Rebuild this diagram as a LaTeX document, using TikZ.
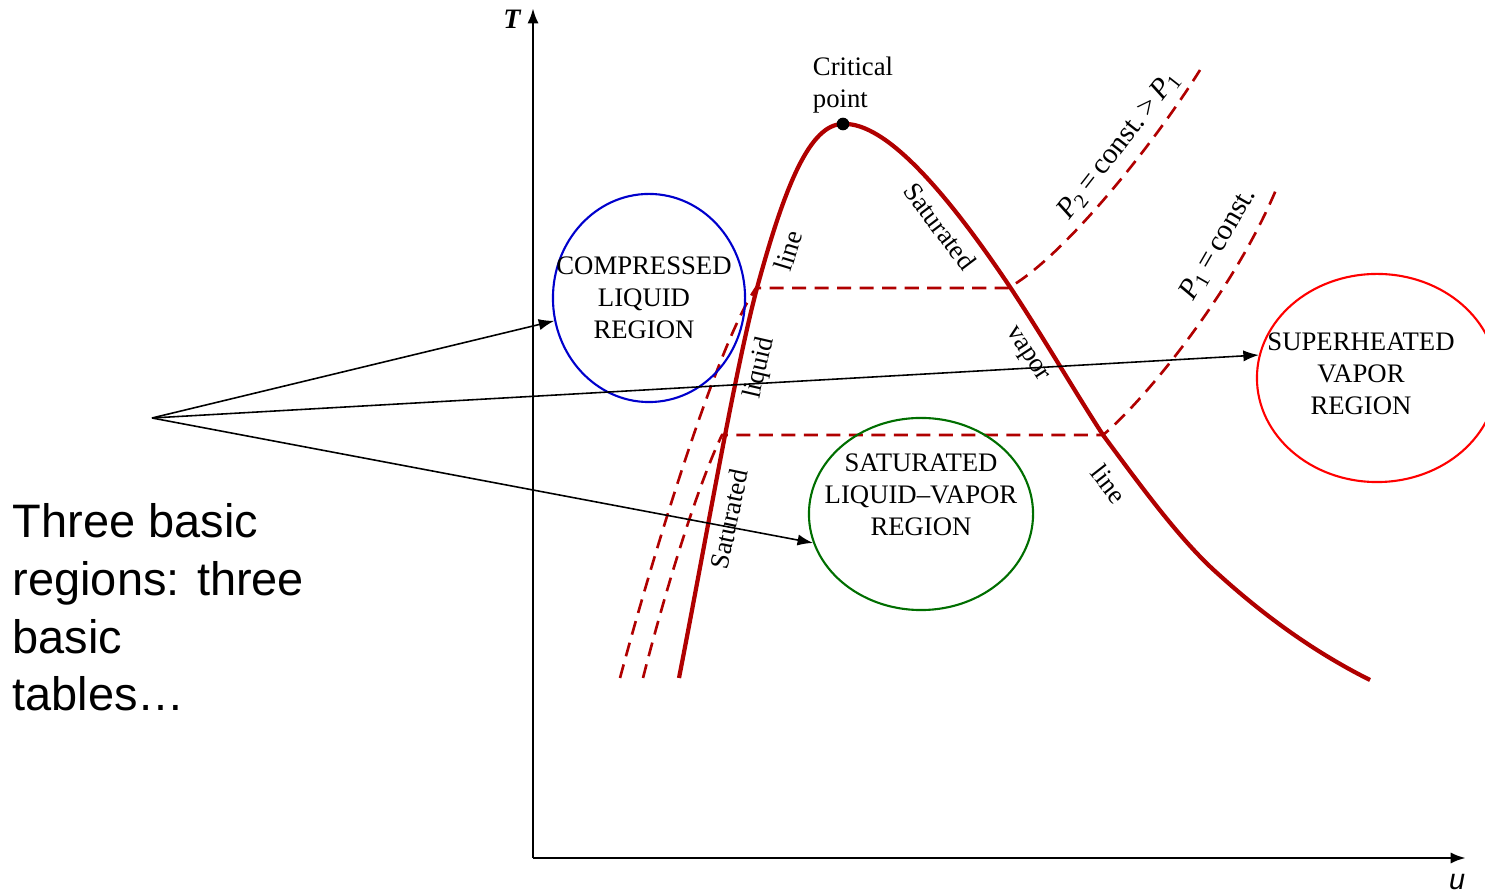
\documentclass[tikz,border=0pt]{standalone}
\usepackage{fontspec}
\setmainfont{Liberation Serif}
\setsansfont{Liberation Sans}
\usetikzlibrary{shapes.geometric,arrows.meta}
\definecolor{domered}{RGB}{176,0,0}
\definecolor{cblue}{RGB}{0,0,204}
\definecolor{cred}{RGB}{255,0,0}
\definecolor{cgreen}{RGB}{0,110,0}
\begin{document}
\begin{tikzpicture}[
  x=0.01cm, y=-0.01cm, >={Latex[length=4.4pt,width=3.2pt]},
  dome/.style={domered, line width=1.2pt},
  isobar/.style={domered, line width=0.75pt, dash pattern=on 4pt off 2.4pt},
  region/.style={draw, ellipse, line width=0.6pt, inner sep=0pt},
  rtxt/.style={font=\fontsize{7.6}{9.1}\selectfont, align=center, inner sep=0pt},
  clbl/.style={font=\fontsize{7.6}{9}\selectfont, inner sep=0pt},
  plbl/.style={font=\fontsize{8.3}{9}\selectfont, inner sep=0pt},
  ptr/.style={->, line width=0.45pt}
]
\useasboundingbox (0,0) rectangle (1485,892);
\clip (0,0) rectangle (1485,892);
% ---------------- axes ----------------------------------------------------
\coordinate (O) at (533,858);
\coordinate (tTop) at (533,8);
\coordinate (uEnd) at (1466,858);
\draw[->, line width=0.8pt] (O) -- (tTop);
\draw[->, line width=0.8pt] (O) -- (uEnd);
\node[font=\fontsize{8}{9}\selectfont\bfseries\itshape] (tlbl) at (512,19) {T};
\node[font=\fontsize{8.2}{9}\sffamily\itshape] (ulbl) at (1457,882) {u};
% ---------------- saturation dome -----------------------------------------
\draw[dome] (679,678) .. controls (705,545) and (735,370) .. (757,288)
  .. controls (785,185) and (810,124) .. (843,124)
  .. controls (885,122) and (945,190) .. (1010,287)
  .. controls (1045,340) and (1075,392) .. (1103,435)
  .. controls (1140,485) and (1180,540) .. (1217,573)
  .. controls (1260,612) and (1310,650) .. (1370,680);
\node[circle, fill, inner sep=0pt, minimum size=3.6pt] (cp) at (843,124) {};
\node[clbl, align=left] (cplbl) at (853,85) {Critical\\point};
% ---------------- isobars -------------------------------------------------
\draw[isobar] (620,678) .. controls (660,530) and (720,340) .. (756,288)
  -- (1008,288) .. controls (1060,260) and (1150,150) .. (1200,70);
\draw[isobar] (643,678) .. controls (668,580) and (700,480) .. (722,435)
  -- (1103,435) .. controls (1145,400) and (1235,290) .. (1278,185);
\node[plbl, rotate=52] (ptwo) at (1119,145)
  {\textit{P}\textsubscript{2}\,=\,const.\,>\,\textit{P}\textsubscript{1}};
\node[plbl, rotate=60] (pone) at (1218,244)
  {\textit{P}\textsubscript{1}\,=\,const.};
% ---------------- curve labels --------------------------------------------
\node[clbl, rotate=73] (l1) at (788,251) {line};
\node[clbl, rotate=77] (l2) at (760,368) {liquid};
\node[clbl, rotate=78] (l3) at (729,519) {Saturated};
\node[clbl, rotate=-53] (v1) at (940,226) {Saturated};
\node[clbl, rotate=-57] (v2) at (1026,355) {vapor};
\node[clbl, rotate=-52] (v3) at (1109,484) {line};
% ---------------- regions -------------------------------------------------
\node[region, cblue, minimum width=1.92cm, minimum height=2.08cm] (cl) at (649,298) {};
\node[region, cred, minimum width=2.40cm, minimum height=2.08cm] (sv) at (1377,378) {};
\node[region, cgreen, minimum width=2.24cm, minimum height=1.92cm] (slv) at (921,514) {};
\node[rtxt] (cltxt) at (644,298) {COMPRESSED\\LIQUID\\REGION};
\node[rtxt] (svtxt) at (1361,374) {SUPERHEATED\\VAPOR\\REGION};
\node[rtxt] (slvtxt) at (921,495) {SATURATED\\LIQUID\textendash VAPOR\\REGION};
% ---------------- pointers ------------------------------------------------
\coordinate (src) at (152,418);
\draw[ptr] (src) -- (cl);
\draw[ptr] (src) -- (sv.169);
\draw[ptr] (src) -- (slv.195);
\node[font=\fontsize{13.35}{16.4}\sffamily, align=left, anchor=north west,
  inner sep=0pt] (note) at (12,503) {Three basic\\regions: three\\basic\\tables\ldots};
\end{tikzpicture}
\end{document}
